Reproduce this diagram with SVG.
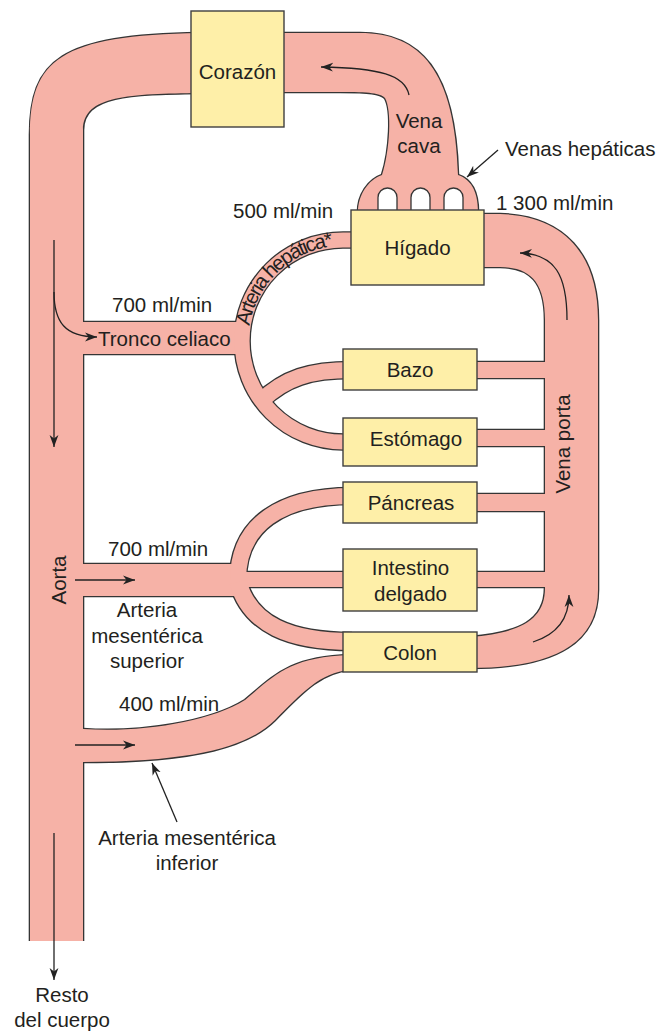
<svg xmlns="http://www.w3.org/2000/svg" width="662" height="1031" viewBox="0 0 662 1031">
<defs>
<style>
.ol{fill:none;stroke:#353535;stroke-width:2.6}
.olt{fill:none;stroke:#353535}
.pk{fill:#F6B2A7;stroke:none}
.pkt{fill:none;stroke:#F6B2A7}
.box{fill:#FEEFA8;stroke:#3f3f3f;stroke-width:1.4}
.hole{fill:#fff;stroke:#353535;stroke-width:1.3}
.ar{fill:none;stroke:#222;stroke-width:1.3;marker-end:url(#ah)}
text{font-family:"Liberation Sans",Arial,Helvetica,sans-serif;font-size:20.5px;fill:#231f20}
.c{text-anchor:middle}
</style>
<marker id="ah" markerUnits="userSpaceOnUse" markerWidth="14" markerHeight="10" refX="12" refY="5" orient="auto">
<path d="M12,5 L0,0.6 L3.5,5 L0,9.4 Z" fill="#222"/>
</marker>
<path id="arcText" d="M249.5,326 A96,96 0 0 1 376,251"/>
</defs>

<g id="vessels">
<g id="vessel-outlines">
<path class="ol" d="M30,941 L30,135 C30,60 60,35 200,33"/>
<path class="ol" d="M200,93 C130,94 83,95 83,130 L83,941"/>
<path class="ol" d="M278,33 L360,33 C420,33 455,70 458,175 C470,179 478,190 478,212 L358,212 C358,195 368,180 382,175 C390,150 392,110 385,98 C380,93 370,92 340,92 L278,92"/>
<path class="ol" d="M478,214 L500,214 C565,216 598,255 598,320 L598,590 C598,640 560,668 470,668 M470,637 C520,633 545,620 545,588 L545,320 C545,282 530,267 500,267 L478,267"/>
<path class="ol" d="M60,729 L83,729 C140,733 210,722 245,700 C275,675 290,657 350,655 M350,670 C320,672 300,695 275,720 C250,745 200,762 83,762 L60,762"/>
<path class="olt" stroke-width="34.6" d="M60,338 L242,338"/>
<path class="olt" stroke-width="17.6" d="M352,240 L343,240 A101,101 0 0 0 343,442 L352,442"/>
<path class="olt" stroke-width="18.6" d="M261,401 C285,378 310,370 352,370"/>
<path class="olt" stroke-width="34.6" d="M60,580 L240,580"/>
<path class="olt" stroke-width="18.6" d="M238,580 C238,525 280,496 352,496"/>
<path class="olt" stroke-width="17.6" d="M236,579.5 L352,579.5"/>
<path class="olt" stroke-width="19.6" d="M238,582 C250,625 290,641.5 352,641.5"/>
<path class="olt" stroke-width="18.6" d="M470,370 L560,370"/>
<path class="olt" stroke-width="18.6" d="M470,438 L560,438"/>
<path class="olt" stroke-width="19.6" d="M470,502.5 L560,502.5"/>
<path class="olt" stroke-width="17.6" d="M470,579.5 L560,579.5"/>
</g>
<g id="vessel-fills">
<path class="pk" d="M30,941 L30,135 C30,60 60,35 200,33 L200,93 C130,94 83,95 83,130 L83,941 Z"/>
<path class="pk" d="M278,33 L360,33 C420,33 455,70 458,175 C470,179 478,190 478,212 L358,212 C358,195 368,180 382,175 C390,150 392,110 385,98 C380,93 370,92 340,92 L278,92 Z"/>
<path class="pk" d="M478,214 L500,214 C565,216 598,255 598,320 L598,590 C598,640 560,668 470,668 L470,637 C520,633 545,620 545,588 L545,320 C545,282 530,267 500,267 L478,267 Z"/>
<path class="pk" d="M60,729 L83,729 C140,733 210,722 245,700 C275,675 290,657 350,655 L350,670 C320,672 300,695 275,720 C250,745 200,762 83,762 L60,762 Z"/>
<path class="pkt" stroke-width="32" d="M60,338 L242,338"/>
<path class="pkt" stroke-width="15" d="M352,240 L343,240 A101,101 0 0 0 343,442 L352,442"/>
<path class="pkt" stroke-width="16" d="M261,401 C285,378 310,370 352,370"/>
<path class="pkt" stroke-width="32" d="M60,580 L240,580"/>
<path class="pkt" stroke-width="16" d="M238,580 C238,525 280,496 352,496"/>
<path class="pkt" stroke-width="15" d="M236,579.5 L352,579.5"/>
<path class="pkt" stroke-width="17" d="M238,582 C250,625 290,641.5 352,641.5"/>
<path class="pkt" stroke-width="16" d="M470,370 L560,370"/>
<path class="pkt" stroke-width="16" d="M470,438 L560,438"/>
<path class="pkt" stroke-width="17" d="M470,502.5 L560,502.5"/>
<path class="pkt" stroke-width="15" d="M470,579.5 L560,579.5"/>
</g>
<g id="hepatic-vein-openings">
<path class="hole" d="M378,211 L378,197.5 A9.5,9.5 0 0 1 397,197.5 L397,211"/>
<path class="hole" d="M411,211 L411,197.5 A9.5,9.5 0 0 1 430,197.5 L430,211"/>
<path class="hole" d="M444,211 L444,197.5 A9.5,9.5 0 0 1 463,197.5 L463,211"/>
</g>
</g>

<g id="arrows">
<path class="ar" d="M54,240 L54,447"/>
<path class="ar" d="M54,292 C54,322 65,337 97,337"/>
<path class="ar" d="M75,580 L135,580"/>
<path class="ar" d="M75,745 L135,745"/>
<path class="ar" d="M54,833 L54,980"/>
<path class="ar" d="M409,95 C405,75 380,68 321,67"/>
<path class="ar" d="M567,320 C567,275 555,254 520,253"/>
<path class="ar" d="M533,642 C555,635 569,620 569,595"/>
<path class="ar" d="M498,150 L467,177"/>
<path class="ar" d="M177,822 L152,763"/>
</g>

<g id="node-corazon"><rect class="box" x="191" y="11" width="93" height="116"/><text class="c" x="237.5" y="79">Corazón</text></g>
<g id="node-higado"><rect class="box" x="351" y="210" width="133" height="75"/><text class="c" x="417.5" y="255">Hígado</text></g>
<g id="node-bazo"><rect class="box" x="343" y="349" width="134" height="41"/><text class="c" x="410" y="377">Bazo</text></g>
<g id="node-estomago"><rect class="box" x="343" y="418" width="134" height="48"/><text class="c" x="416" y="446">Estómago</text></g>
<g id="node-pancreas"><rect class="box" x="343" y="482" width="134" height="41"/><text class="c" x="411" y="510">Páncreas</text></g>
<g id="node-intestino"><rect class="box" x="343" y="549" width="134" height="62"/><text class="c" x="410.5" y="575">Intestino</text><text class="c" x="410.5" y="601">delgado</text></g>
<g id="node-colon"><rect class="box" x="343" y="632" width="134" height="40"/><text class="c" x="410" y="660">Colon</text></g>

<g id="labels">
<text class="c" x="419" y="128">Vena</text>
<text class="c" x="419" y="153">cava</text>
<text x="505" y="156">Venas hepáticas</text>
<text x="496" y="210">1 300 ml/min</text>
<text x="233" y="218">500 ml/min</text>
<text font-size="15"><textPath href="#arcText" textLength="124">Arteria hepática*</textPath></text>
<text x="112" y="312">700 ml/min</text>
<text x="98" y="346">Tronco celiaco</text>
<text class="c" transform="translate(570,444) rotate(-90)">Vena porta</text>
<text class="c" transform="translate(66,580) rotate(-90)">Aorta</text>
<text x="108" y="556">700 ml/min</text>
<text class="c" x="147" y="617">Arteria</text>
<text class="c" x="147" y="643">mesentérica</text>
<text class="c" x="147" y="668">superior</text>
<text x="119" y="711">400 ml/min</text>
<text class="c" x="187" y="845">Arteria mesentérica</text>
<text class="c" x="187" y="870">inferior</text>
<text class="c" x="62" y="1002">Resto</text>
<text class="c" x="62" y="1027">del cuerpo</text>
</g>
</svg>
